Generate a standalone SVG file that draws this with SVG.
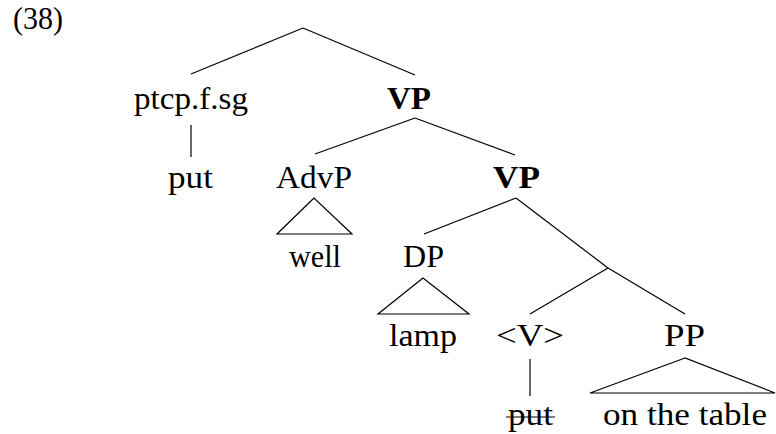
<svg xmlns="http://www.w3.org/2000/svg" width="776" height="434" viewBox="0 0 776 434">
<style>
text{font-family:"Liberation Serif","DejaVu Serif",serif;font-size:31px;fill:#000;text-anchor:middle}
.b{font-weight:bold}
line,polygon{stroke:#000;stroke-width:1.2;fill:none}
</style>
<rect width="776" height="434" fill="#fff"/>
<text x="13" y="29" style="text-anchor:start" textLength="50" lengthAdjust="spacingAndGlyphs">(38)</text>
<g id="connectors">
<line x1="303" y1="28" x2="191" y2="74"/>
<line x1="303" y1="28" x2="415" y2="75"/>
<line x1="191" y1="125" x2="191" y2="157"/>
<line x1="415" y1="118" x2="315" y2="154"/>
<line x1="415" y1="118" x2="515" y2="155"/>
<line x1="516" y1="198" x2="424" y2="234"/>
<line x1="516" y1="198" x2="608" y2="268"/>
<line x1="608" y1="268" x2="530" y2="314"/>
<line x1="608" y1="268" x2="685" y2="314"/>
<line x1="530" y1="359" x2="530" y2="396"/>
</g>
<g id="ptcp"><text x="191" y="109" textLength="114" lengthAdjust="spacingAndGlyphs">ptcp.f.sg</text></g>
<g id="vp1"><text class="b" x="409" y="109" textLength="44" lengthAdjust="spacingAndGlyphs">VP</text></g>
<g id="put1"><text x="190.5" y="188" textLength="45" lengthAdjust="spacingAndGlyphs">put</text></g>
<g id="advp"><text x="314" y="188" textLength="76" lengthAdjust="spacingAndGlyphs">AdvP</text>
<polygon points="314,198 277,234 352,234"/></g>
<g id="vp2"><text class="b" x="516.5" y="188" textLength="47" lengthAdjust="spacingAndGlyphs">VP</text></g>
<g id="well"><text x="315" y="267" textLength="52" lengthAdjust="spacingAndGlyphs">well</text></g>
<g id="dp"><text x="423.5" y="267" textLength="41" lengthAdjust="spacingAndGlyphs">DP</text>
<polygon points="423,278 378,314 469,314"/></g>
<g id="lamp"><text x="423" y="346" textLength="68" lengthAdjust="spacingAndGlyphs">lamp</text></g>
<g id="v"><text x="530" y="346" textLength="68" lengthAdjust="spacingAndGlyphs">&lt;V&gt;</text></g>
<g id="pp"><text x="684.5" y="346" textLength="41" lengthAdjust="spacingAndGlyphs">PP</text>
<polygon points="685,358 590,393 775,393"/></g>
<g id="put2"><text x="530.5" y="425" textLength="45" lengthAdjust="spacingAndGlyphs">put</text>
<line x1="506" y1="417" x2="555" y2="417"/></g>
<g id="onthetable"><text x="685" y="425" textLength="164" lengthAdjust="spacingAndGlyphs">on the table</text></g>
</svg>
